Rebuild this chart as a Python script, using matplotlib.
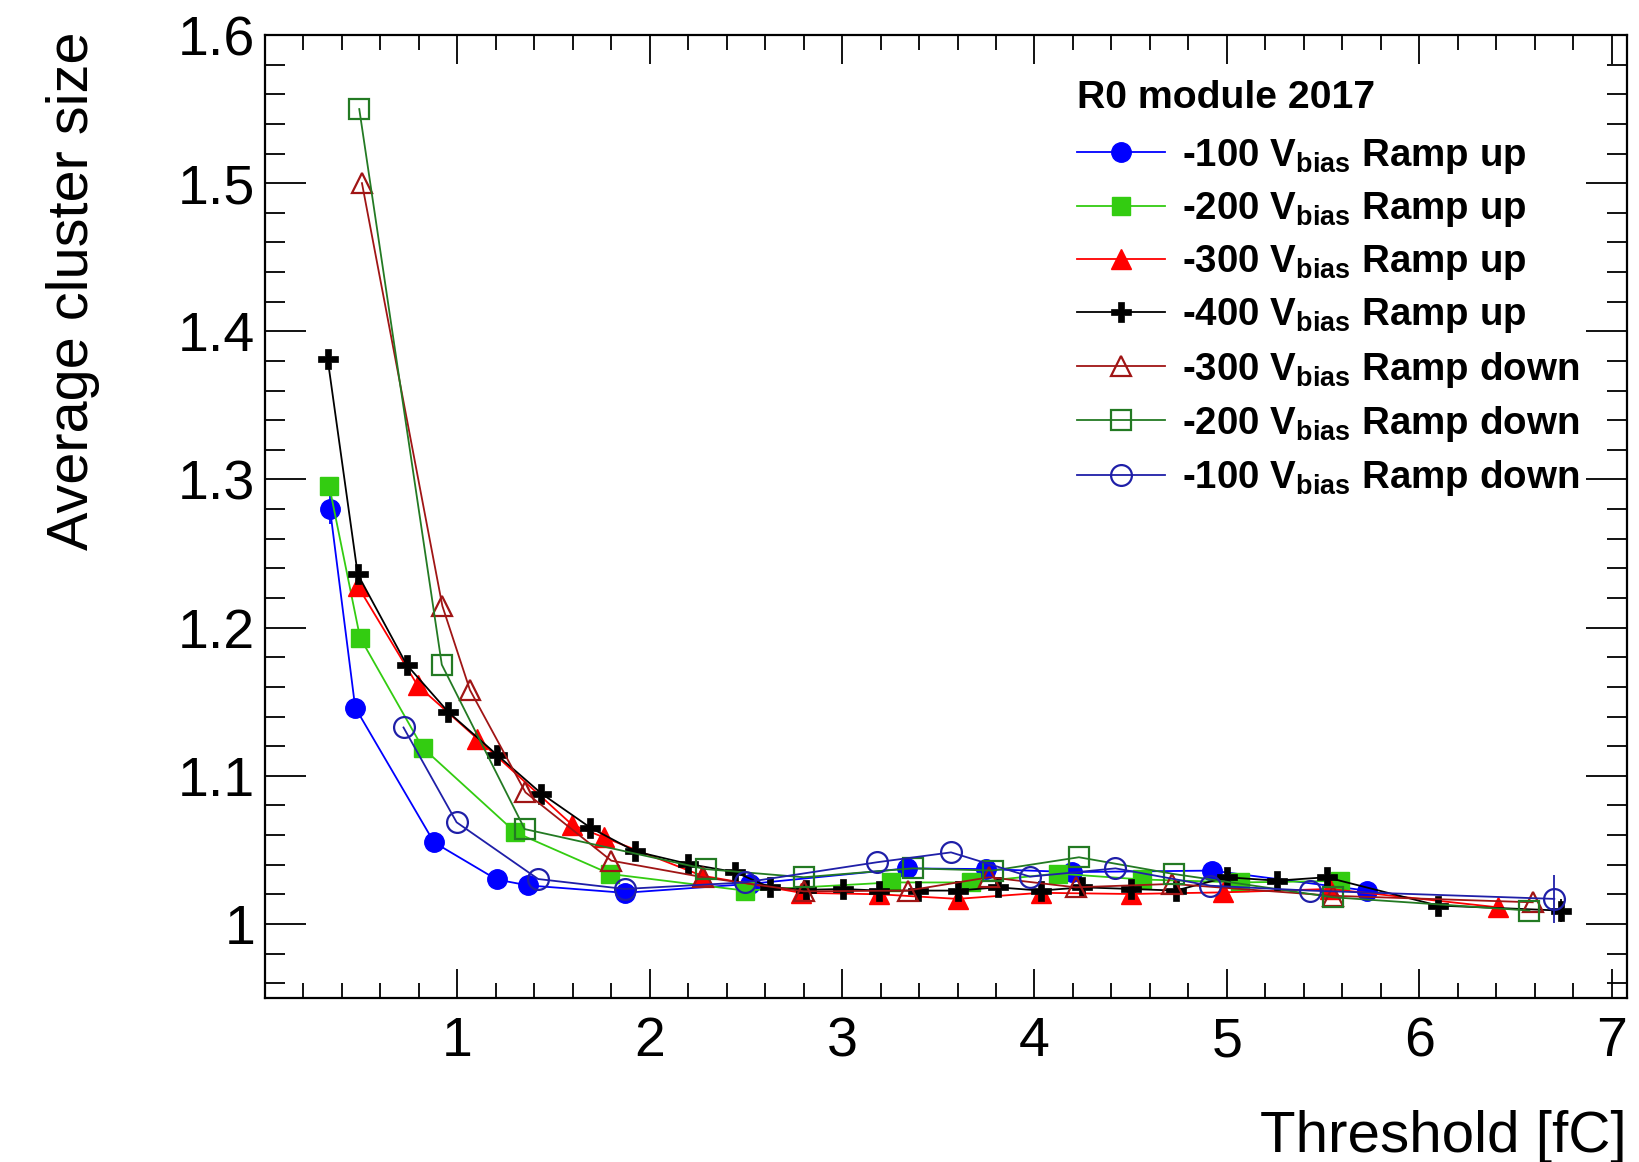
import matplotlib
matplotlib.use("Agg")
import matplotlib.pyplot as plt
import numpy as np
from matplotlib.ticker import MultipleLocator, FixedLocator, FuncFormatter

plt.rcParams['font.family'] = ['Liberation Sans', 'DejaVu Sans']
plt.rcParams['mathtext.fontset'] = 'custom'
plt.rcParams['mathtext.rm'] = 'Liberation Sans'
plt.rcParams['mathtext.bf'] = 'Liberation Sans:bold'
plt.rcParams['mathtext.it'] = 'Liberation Sans:italic'

# ---------------- data ----------------
x_100_up = [0.338, 0.469, 0.879, 1.204, 1.367, 1.869, 2.52, 3.336, 3.748, 4.197, 4.922, 5.726]
y_100_up = [1.280, 1.146, 1.055, 1.030, 1.026, 1.021, 1.027, 1.0375, 1.037, 1.035, 1.036, 1.0225]
e_100_up = [0.010, 0, 0, 0, 0, 0, 0, 0, 0, 0, 0, 0]

x_200_up = [0.334, 0.494, 0.819, 1.302, 1.795, 2.494, 3.255, 3.67, 4.12, 4.56, 5.07, 5.59]
y_200_up = [1.2956, 1.1933, 1.119, 1.0618, 1.0337, 1.0225, 1.028, 1.028, 1.034, 1.030, 1.028, 1.029]

x_300_up = [0.482, 0.793, 1.104, 1.596, 1.76, 2.27, 2.788, 3.194, 3.60, 4.033, 4.50, 4.98, 5.536, 6.409]
y_300_up = [1.228, 1.161, 1.125, 1.067, 1.0585, 1.0326, 1.021, 1.020, 1.0169, 1.021, 1.0202, 1.0213, 1.0236, 1.0112]

x_400_up = [0.326, 0.482, 0.736, 0.953, 1.207, 1.437, 1.691, 1.924, 2.20, 2.443, 2.624, 2.81, 3.004,
            3.194, 3.393, 3.60, 3.808, 4.033, 4.249, 4.50, 4.733, 5.00, 5.259, 5.518, 6.097, 6.737]
y_400_up = [1.381, 1.236, 1.175, 1.143, 1.114, 1.088, 1.065, 1.049, 1.0405, 1.035, 1.0247, 1.023, 1.0236,
            1.0225, 1.0225, 1.0225, 1.0247, 1.0225, 1.0247, 1.0236, 1.0225, 1.0315, 1.0292, 1.0315, 1.0124, 1.009]
e_400_up = [0] * 25 + [0.008]

x_300_down = [0.504, 0.922, 1.065, 1.354, 1.80, 2.278, 2.80, 3.341, 3.765, 4.214, 4.715, 5.55, 6.59]
y_300_down = [1.500, 1.2146, 1.158, 1.0888, 1.0427, 1.0315, 1.022, 1.0225, 1.0315, 1.0247, 1.027, 1.019, 1.0146]

x_200_down = [0.49, 0.919, 1.35, 2.29, 2.80, 3.367, 3.782, 4.231, 4.724, 5.55, 6.573]
y_200_down = [1.550, 1.175, 1.064, 1.037, 1.0315, 1.0375, 1.036, 1.045, 1.0337, 1.018, 1.009]

x_100_down = [0.72, 0.996, 1.42, 1.869, 2.494, 3.18, 3.566, 3.977, 4.421, 4.914, 5.432, 6.702]
y_100_down = [1.1326, 1.0686, 1.0303, 1.0236, 1.028, 1.0416, 1.0483, 1.0319, 1.0375, 1.0258, 1.0225, 1.0169]
e_100_down = [0] * 11 + [0.016]

labels = [r"-100 $\mathbf{V}_{\mathbf{bias}}$ Ramp up",
          r"-200 $\mathbf{V}_{\mathbf{bias}}$ Ramp up",
          r"-300 $\mathbf{V}_{\mathbf{bias}}$ Ramp up",
          r"-400 $\mathbf{V}_{\mathbf{bias}}$ Ramp up",
          r"-300 $\mathbf{V}_{\mathbf{bias}}$ Ramp down",
          r"-200 $\mathbf{V}_{\mathbf{bias}}$ Ramp down",
          r"-100 $\mathbf{V}_{\mathbf{bias}}$ Ramp down"]
legend_title = "R0 module 2017"
x_title = "Threshold [fC]"
y_title = "Average cluster size"

# ---------------- figure ----------------
W, H = 1639, 1162
fig = plt.figure(figsize=(W / 100, H / 100), dpi=100)
ax = fig.add_axes([265 / W, 1 - 998 / H, (1627 - 265) / W, (998 - 35) / H])

lw = 1.3
series = [
    (x_100_up, y_100_up, e_100_up, dict(color='#0000ff', marker='o', ms=14, mfc='#0000ff', mec='#0000ff')),
    (x_200_up, y_200_up, None, dict(color='#33cc11', marker='s', ms=13, mfc='#33cc11', mec='#33cc11')),
    (x_300_up, y_300_up, None, dict(color='#ff0000', marker='^', ms=15, mfc='#ff0000', mec='#ff0000')),
    (x_400_up, y_400_up, e_400_up, dict(color='#000000', marker='P', ms=14, mfc='#000000', mec='#000000', mew=0.5)),
    (x_300_down, y_300_down, None, dict(color='#a01515', marker='^', ms=15, mfc='none', mec='#a01515', mew=1.6)),
    (x_200_down, y_200_down, None, dict(color='#237a23', marker='s', ms=15, mfc='none', mec='#237a23', mew=1.6)),
    (x_100_down, y_100_down, e_100_down, dict(color='#1f1fa8', marker='o', ms=15, mfc='none', mec='#1f1fa8', mew=1.6)),
]

handles = []
for (xs, ys, es, st), lab in zip(series, labels):
    if es is not None:
        ax.errorbar(xs, ys, yerr=es, fmt='none', ecolor=st['color'], elinewidth=lw, capsize=0)
    h, = ax.plot(xs, ys, lw=lw, label=lab, **st)
    handles.append(h)

ax.set_xlim(0, 7.08)
ax.set_ylim(0.95, 1.6)

ax.xaxis.set_major_locator(FixedLocator([1, 2, 3, 4, 5, 6, 7]))
ax.xaxis.set_minor_locator(MultipleLocator(0.2))
ax.yaxis.set_major_locator(MultipleLocator(0.1))
ax.yaxis.set_minor_locator(MultipleLocator(0.02))
ax.yaxis.set_major_formatter(FuncFormatter(lambda v, p: "%g" % round(v, 3)))
ax.xaxis.set_major_formatter(FuncFormatter(lambda v, p: "%g" % v))

ax.tick_params(axis='both', which='both', direction='in', top=True, right=True, width=1.3)
ax.tick_params(axis='y', which='major', length=29.5, labelsize=40, pad=7)
ax.tick_params(axis='y', which='minor', length=14.5)
ax.tick_params(axis='x', which='major', length=21, labelsize=40, pad=13)
ax.tick_params(axis='x', which='minor', length=10.5)
for s in ax.spines.values():
    s.set_linewidth(1.6)

ax.set_xlabel(x_title, fontsize=42, ha='right', va='top')
ax.xaxis.set_label_coords(1.0, -0.116)
ax.set_ylabel(y_title, fontsize=41.5, ha='right')
ax.yaxis.set_label_coords(-0.121, 1.004)

leg = ax.legend(handles=handles, labels=labels, loc='upper left', bbox_to_anchor=(0.596, 0.953),
                frameon=False, title=legend_title, alignment='left',
                title_fontproperties={'weight': 'bold', 'size': 28.3},
                prop={'weight': 'bold', 'size': 27.7}, handlelength=2.3, handletextpad=0.44,
                labelspacing=0.37, borderpad=0, borderaxespad=0)
# slightly larger gap between title and first entry, as in the reference
leg._legend_box.sep = leg._legend_box.sep + 4.5

fig.savefig("out.png", dpi=100)
